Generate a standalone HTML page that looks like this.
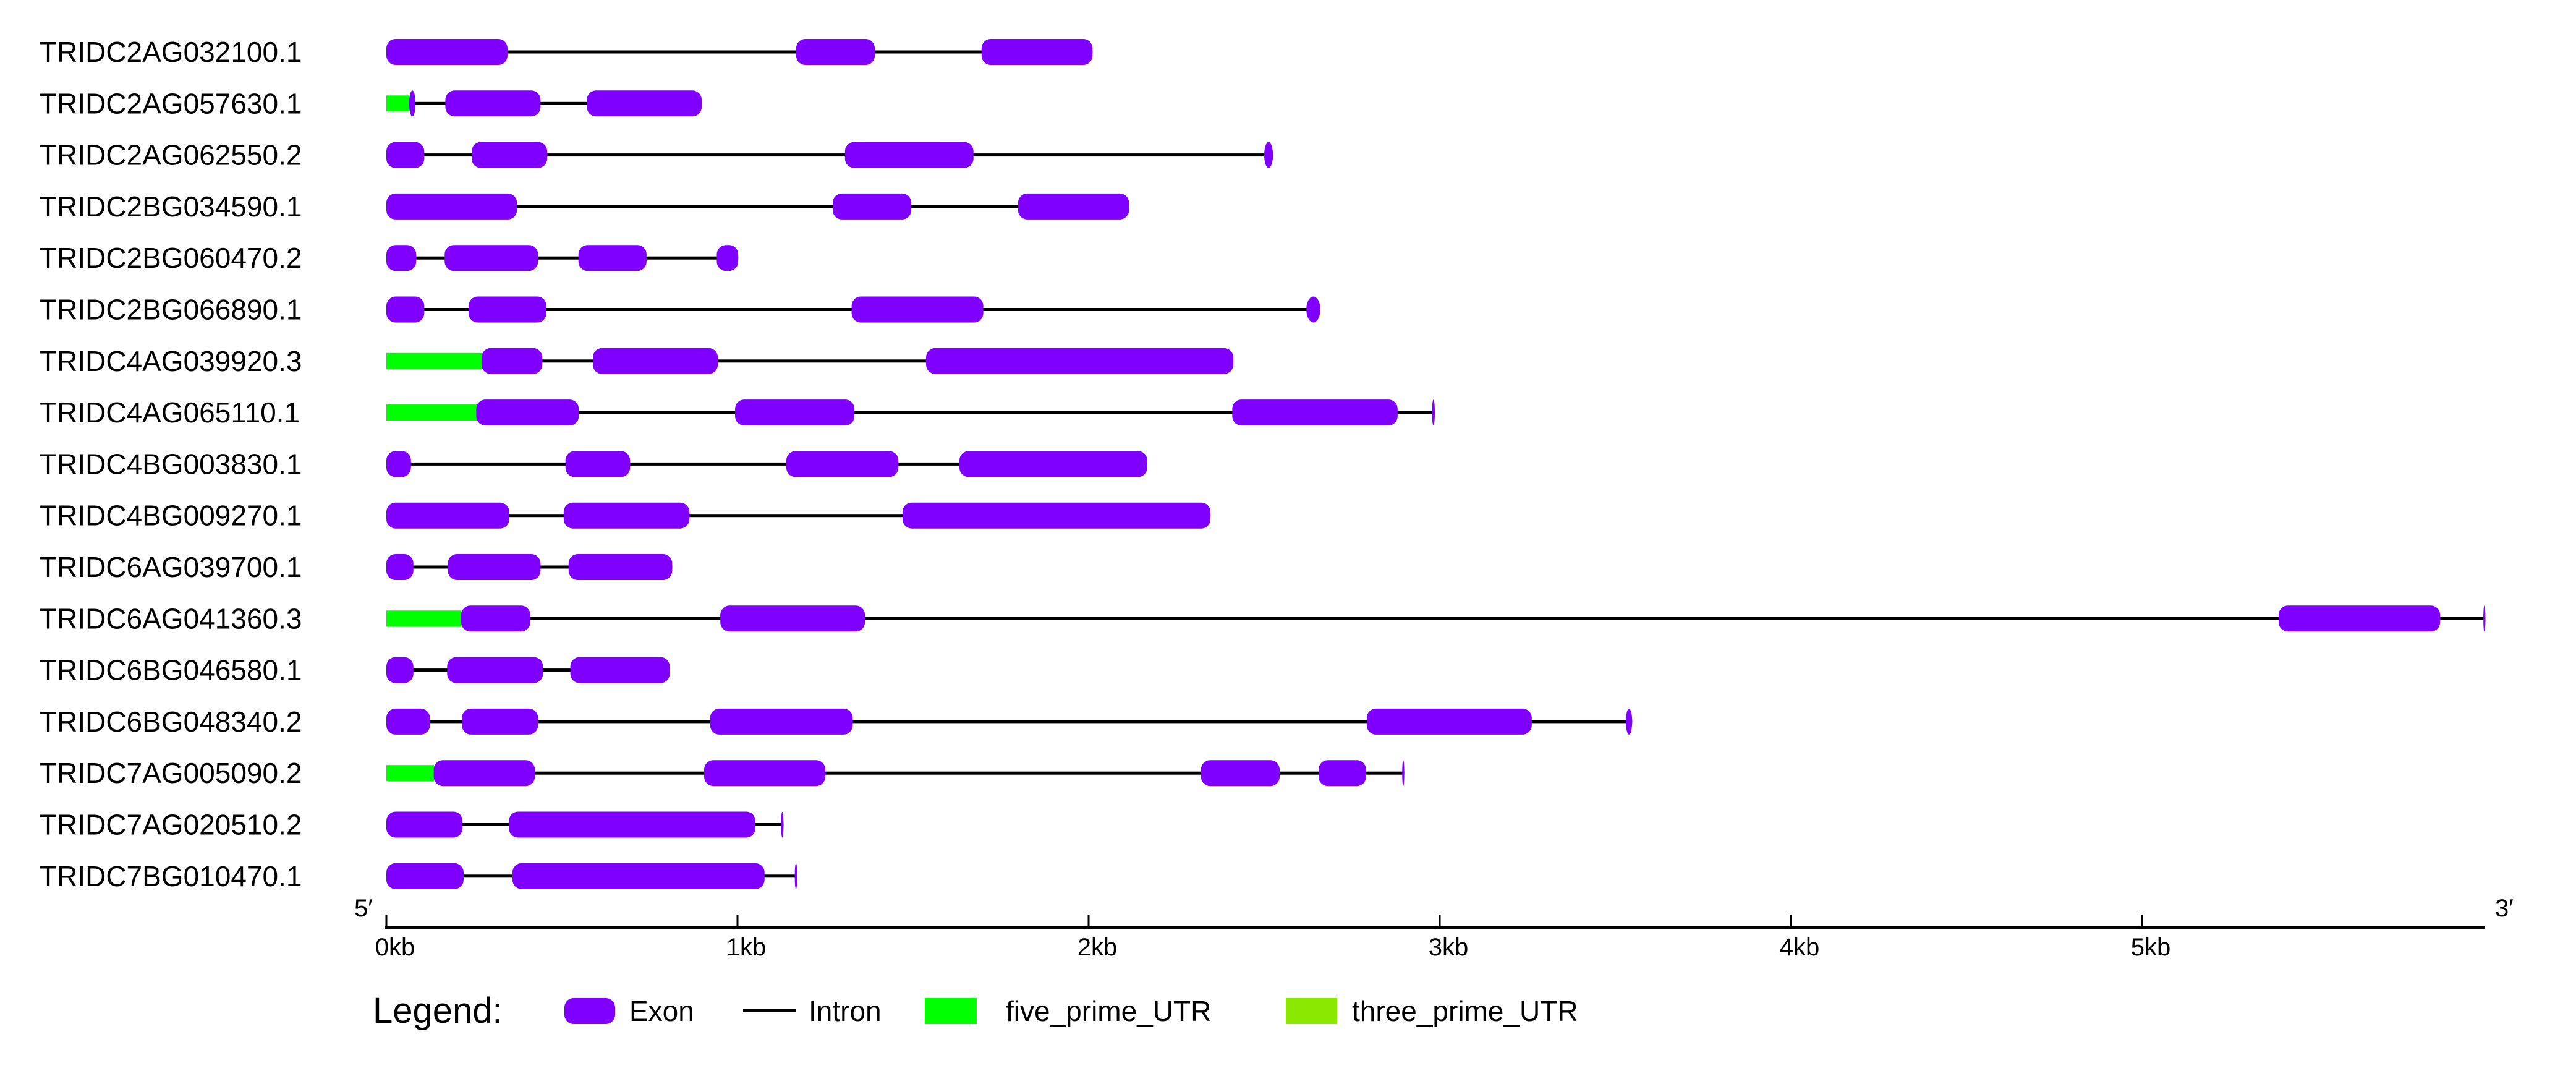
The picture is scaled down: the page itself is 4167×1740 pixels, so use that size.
<!DOCTYPE html>
<html><head><meta charset="utf-8"><style>
html,body{margin:0;padding:0;background:#fff;}
svg text{font-family:"Liberation Sans",sans-serif;fill:#000;}
</style></head><body>
<svg id="chart" width="4167" height="1735" viewBox="0 0 4167 1735" xmlns="http://www.w3.org/2000/svg">
<rect width="4167" height="1735" fill="#fff"/>
<g id="rows"></g>
<g id="axis"></g>
<g id="legend">
<text x="603" y="1654" font-size="58">Legend:</text>
<rect x="913" y="1614" width="82" height="42" rx="15" fill="#7F00FF"/>
<text x="1018" y="1651" font-size="46">Exon</text>
<rect x="1202" y="1632" width="86" height="5" fill="#000"/>
<text x="1308" y="1651" font-size="46">Intron</text>
<rect x="1496" y="1614" width="84" height="42" fill="#00FF00"/>
<text x="1627" y="1651" font-size="46">five_prime_UTR</text>
<rect x="2080" y="1614" width="83" height="42" fill="#8BE800"/>
<text x="2187" y="1651" font-size="46">three_prime_UTR</text>
</g>
</svg>
<script>
const genes = ["TRIDC2AG032100.1","TRIDC2AG057630.1","TRIDC2AG062550.2","TRIDC2BG034590.1","TRIDC2BG060470.2","TRIDC2BG066890.1","TRIDC4AG039920.3","TRIDC4AG065110.1","TRIDC4BG003830.1","TRIDC4BG009270.1","TRIDC6AG039700.1","TRIDC6AG041360.3","TRIDC6BG046580.1","TRIDC6BG048340.2","TRIDC7AG005090.2","TRIDC7AG020510.2","TRIDC7BG010470.1"];
const exons = [
 [[0,0.345],[1.167,1.391],[1.695,2.011]],
 [[0.065,0.083],[0.168,0.439],[0.571,0.898]],
 [[0,0.108],[0.243,0.458],[1.306,1.672],[2.50,2.525]],
 [[0,0.372],[1.271,1.495],[1.799,2.115]],
 [[0,0.085],[0.166,0.432],[0.547,0.741],[0.941,1.002]],
 [[0,0.108],[0.234,0.456],[1.325,1.70],[2.62,2.66]],
 [[0.271,0.444],[0.588,0.944],[1.537,2.412]],
 [[0.256,0.548],[0.993,1.333],[2.409,2.880],[2.978,2.986]],
 [[0,0.07],[0.51,0.694],[1.139,1.458],[1.632,2.167]],
 [[0,0.35],[0.505,0.863],[1.47,2.347]],
 [[0,0.077],[0.175,0.439],[0.519,0.814]],
 [[0.213,0.41],[0.951,1.363],[5.389,5.849],[5.972,5.978]],
 [[0,0.077],[0.173,0.446],[0.524,0.807]],
 [[0,0.124],[0.215,0.432],[0.922,1.328],[2.792,3.262],[3.53,3.548]],
 [[0.135,0.423],[0.905,1.25],[2.32,2.544],[2.655,2.79],[2.893,2.899]],
 [[0,0.217],[0.349,1.051],[1.124,1.131]],
 [[0,0.22],[0.359,1.077],[1.163,1.170]]
];
const fiveUTR = [null,[0,0.066],null,null,null,null,[0,0.272],[0,0.257],null,null,null,[0,0.214],null,null,[0,0.136],null,null];
const geneEnd = [2.011,0.898,2.525,2.115,1.002,2.66,2.412,2.986,2.167,2.347,0.814,5.978,0.807,3.548,2.899,1.131,1.170];
const tickLabels = ["0kb","1kb","2kb","3kb","4kb","5kb"];
const tickValues = [0,1,2,3,4,5];
const axisMax = 5.977;

const NS="http://www.w3.org/2000/svg";
const x0=625, pxPerKb=568;
const xs = v => x0 + v*pxPerKb;
const ys = i => 84 + i*83.3;
function mk(tag, attrs, parent){const e=document.createElementNS(NS,tag);for(const k in attrs)e.setAttribute(k,attrs[k]);parent.appendChild(e);return e;}
const rows=document.getElementById('rows');
genes.forEach((g,i)=>{
  const cy=ys(i);
  const grp=mk('g',{},rows);
  
  
  const t=mk('text',{x:64,y:cy+16,'font-size':46},grp);
  t.textContent=g;
  
  
  const ln=mk('rect',{x:xs(0),y:cy-2.5,width:xs(geneEnd[i])-xs(0),height:5,fill:'#000'},grp);
  
  
  if(fiveUTR[i]){
    const u=fiveUTR[i];
    const r=mk('rect',{x:xs(u[0]),y:cy-13,width:xs(u[1])-xs(u[0]),height:26,fill:'#00FF00'},grp);
    
    
  }
  exons[i].forEach(e=>{
    const w=Math.max(xs(e[1])-xs(e[0]),3);
    const rx=Math.min(w/2,15);
    const r=mk('rect',{x:xs(e[0]),y:cy-21,width:w,height:42,rx:rx,ry:w<30?21:15,fill:'#7F00FF'},grp);
    
    
  });
});
const ax=document.getElementById('axis');
const al=mk('rect',{x:xs(0)-2,y:1498,width:xs(axisMax)-xs(0)+2,height:5,fill:'#000'},ax);


tickValues.forEach((v,k)=>{
  const tk=mk('rect',{x:xs(v)-1.5,y:1479,width:3,height:21,fill:'#000'},ax);
  
  
  const tl=mk('text',{x:xs(v)+14,y:1545,'font-size':40,'text-anchor':'middle'},ax);
  tl.textContent=tickLabels[k];
  
  
});
const p5=mk('text',{x:573,y:1482,'font-size':40},ax);
p5.textContent="5′";


const p3=mk('text',{x:4036,y:1482,'font-size':40},ax);
p3.textContent="3′";


</script>
</body></html>
